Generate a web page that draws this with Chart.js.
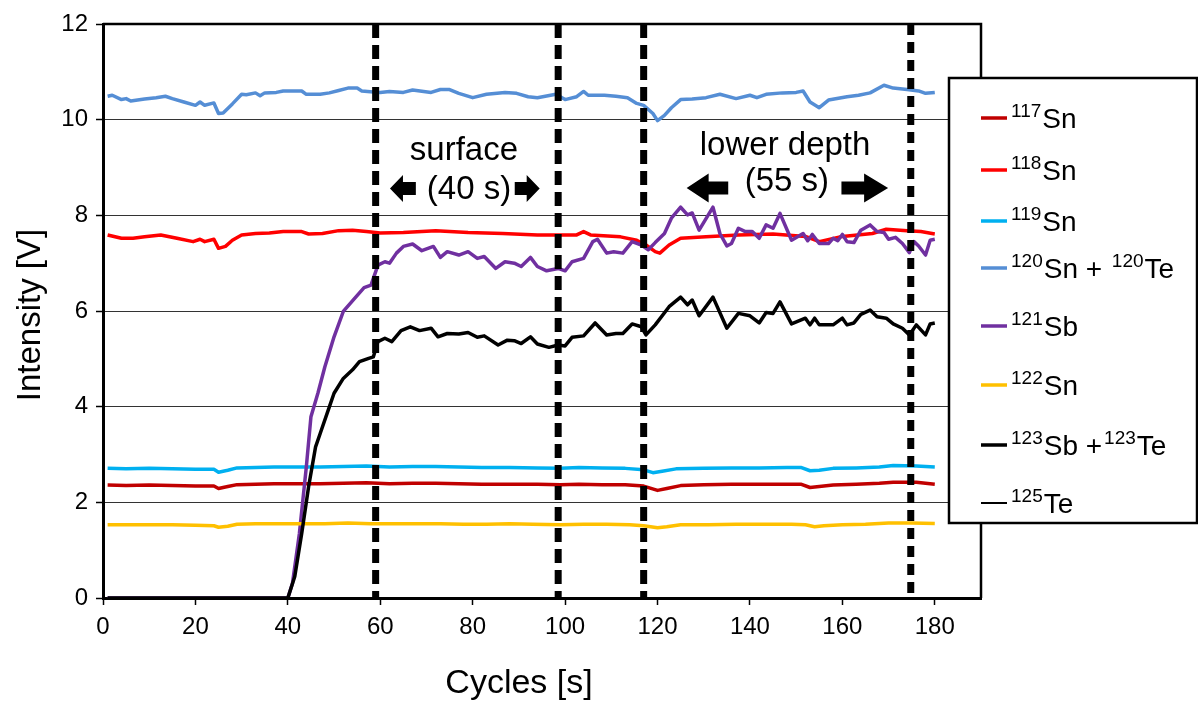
<!DOCTYPE html>
<html>
<head>
<meta charset="utf-8">
<script src="https://cdn.jsdelivr.net/npm/chart.js@4.4.1/dist/chart.umd.min.js"></script>
<style>
  body { margin: 0; background: #fff; }
  #wrap { width: 1198px; height: 702px; }
</style>
</head>
<body>
<div id="wrap"><canvas id="myChart" width="1198" height="702"></canvas></div>
<script>
// values, [cycle, intensity]
const sn117 = [[1,2.36],[5,2.35],[10,2.36],[15,2.35],[20,2.34],[24,2.34],[25,2.29],[27,2.33],[29,2.37],[33,2.38],[37,2.39],[42,2.39],[47,2.39],[52,2.40],[57,2.41],[62,2.39],[67,2.40],[72,2.40],[77,2.39],[82,2.38],[88,2.38],[94,2.38],[99,2.37],[103,2.38],[108,2.37],[113,2.37],[117,2.34],[120,2.25],[122,2.29],[125,2.35],[130,2.37],[136,2.38],[142,2.38],[148,2.38],[151,2.38],[153,2.31],[155,2.33],[158,2.36],[163,2.38],[168,2.40],[171,2.42],[176,2.42],[180,2.38]];
const sn118 = [[1,7.59],[4,7.52],[6.5,7.52],[9,7.55],[12.5,7.59],[16,7.52],[19.5,7.45],[21,7.50],[22,7.45],[24,7.50],[25,7.31],[26.5,7.35],[28,7.48],[30,7.59],[33,7.62],[36,7.63],[39,7.66],[43,7.66],[44.5,7.61],[47.5,7.62],[51,7.68],[54,7.69],[57,7.66],[60,7.63],[65,7.64],[72,7.68],[79,7.64],[86.5,7.62],[94,7.59],[98,7.59],[102.5,7.59],[104,7.66],[105.5,7.59],[112,7.55],[115.5,7.48],[117.5,7.38],[119.5,7.24],[120.5,7.21],[122.5,7.38],[125,7.52],[130.5,7.55],[137.5,7.59],[145,7.61],[152,7.56],[155,7.45],[159.5,7.55],[166.5,7.62],[169.5,7.71],[174,7.68],[177,7.66],[180,7.61]];
const sn119 = [[1,2.71],[5,2.70],[10,2.71],[15,2.70],[20,2.69],[24,2.69],[25,2.63],[27,2.67],[29,2.72],[33,2.73],[37,2.74],[42,2.74],[47,2.74],[52,2.75],[57,2.76],[62,2.74],[67,2.75],[72,2.75],[77,2.74],[82,2.73],[88,2.73],[94,2.72],[99,2.71],[103,2.73],[108,2.72],[113,2.71],[117,2.68],[119,2.62],[121,2.65],[124,2.70],[130,2.71],[136,2.72],[142,2.72],[148,2.73],[151,2.73],[153,2.66],[155,2.67],[158,2.71],[163,2.72],[168,2.74],[171,2.77],[176,2.76],[180,2.74]];
const sn120te120 = [[1,10.49],[2,10.51],[4,10.42],[5,10.44],[6,10.39],[9,10.43],[11.5,10.46],[13.5,10.49],[15,10.44],[17.5,10.37],[20,10.30],[21,10.37],[22,10.30],[24,10.35],[25,10.13],[26,10.14],[28,10.33],[30,10.53],[31,10.52],[33,10.56],[34,10.50],[35,10.56],[37.5,10.57],[39,10.60],[43,10.60],[44,10.53],[47,10.53],[49,10.56],[51,10.61],[53,10.66],[55,10.66],[56,10.60],[58.5,10.58],[60,10.57],[62,10.59],[65,10.57],[67,10.62],[71,10.57],[73,10.63],[75,10.63],[77,10.55],[80,10.46],[83,10.53],[87,10.57],[89.5,10.55],[92,10.48],[94,10.46],[98,10.53],[100,10.42],[102.5,10.48],[104,10.59],[105,10.51],[108.5,10.51],[111,10.49],[113.5,10.46],[115.5,10.34],[117,10.30],[119,10.13],[120,9.98],[121.5,10.09],[123,10.25],[125,10.42],[127.5,10.43],[130.5,10.46],[133.5,10.53],[137,10.44],[140,10.51],[141.5,10.46],[143.5,10.53],[147,10.56],[150,10.57],[151.5,10.60],[153,10.37],[155,10.25],[157,10.41],[161,10.48],[163.5,10.51],[166,10.56],[169,10.72],[171,10.66],[174,10.63],[176.5,10.60],[178,10.55],[180,10.57]];
const sb121 = [[1,0],[40,0],[41,0.31],[42.5,1.35],[44,2.74],[45,3.79],[46.5,4.28],[48,4.83],[50,5.46],[52,5.99],[54.5,6.27],[56.5,6.49],[58,6.54],[59.5,6.96],[61,7.03],[62,7.00],[63.5,7.21],[65,7.35],[67,7.40],[69,7.26],[71.5,7.35],[73,7.12],[74.5,7.24],[77,7.17],[79,7.24],[81,7.10],[82.5,7.14],[85,6.89],[87,7.03],[89,7.00],[90.5,6.93],[92.5,7.12],[94,6.93],[96,6.84],[98.5,6.89],[100,6.84],[101.5,7.03],[104,7.10],[106,7.45],[107,7.50],[109,7.21],[110.5,7.24],[112.5,7.21],[114.5,7.45],[116.5,7.38],[118,7.28],[119.5,7.43],[121.5,7.62],[123,7.94],[125,8.17],[126.5,8.01],[127.5,8.05],[129,7.69],[132,8.17],[133.5,7.62],[135,7.36],[136,7.41],[137.5,7.73],[139,7.66],[140.5,7.66],[142,7.52],[143.5,7.80],[145,7.73],[146.5,8.04],[149,7.48],[151.5,7.62],[152.5,7.47],[153.5,7.60],[155,7.41],[157,7.41],[158,7.52],[159,7.47],[160,7.60],[161,7.45],[162.5,7.43],[164,7.69],[166,7.80],[167.5,7.66],[169,7.64],[170,7.50],[171.5,7.54],[173,7.41],[174.5,7.22],[175.5,7.45],[176.5,7.36],[178,7.17],[179,7.48],[180,7.50]];
const sn122 = [[1,1.53],[5,1.53],[10,1.53],[15,1.53],[20,1.52],[24,1.51],[25,1.48],[27,1.50],[29,1.54],[33,1.55],[38,1.55],[43,1.55],[48,1.55],[53,1.57],[58,1.55],[63,1.55],[68,1.55],[73,1.55],[78,1.54],[83,1.54],[88,1.55],[93,1.54],[99,1.53],[104,1.54],[109,1.54],[114,1.53],[117,1.51],[120,1.47],[122,1.49],[125,1.53],[131,1.53],[137,1.54],[143,1.54],[149,1.54],[152,1.53],[154,1.49],[156,1.51],[160,1.53],[165,1.54],[170,1.57],[175,1.57],[180,1.56]];
const sb123te123 = [[1,0],[40,0],[41.5,0.45],[43,1.35],[44.5,2.33],[46,3.16],[47,3.44],[49,4.00],[50,4.28],[52,4.59],[54,4.77],[55.5,4.94],[57.5,5.01],[58.5,5.04],[59.5,5.36],[61,5.43],[62.5,5.36],[64.5,5.59],[66.5,5.67],[68.5,5.59],[71,5.64],[72.5,5.46],[74.5,5.53],[77,5.52],[79,5.55],[81,5.45],[82.5,5.48],[85.5,5.29],[87.5,5.39],[89,5.38],[90.5,5.32],[92.5,5.46],[94,5.31],[96.5,5.24],[98.5,5.29],[100,5.27],[101.5,5.45],[104,5.48],[106.5,5.75],[109,5.50],[111,5.53],[112.5,5.53],[114.5,5.73],[116.5,5.67],[117.5,5.50],[119.5,5.71],[122.5,6.09],[125,6.29],[126.5,6.13],[127.5,6.23],[129,5.90],[132,6.29],[135,5.64],[137.5,5.95],[140,5.90],[142,5.75],[143.5,5.97],[145,5.95],[146.5,6.19],[149,5.73],[152,5.85],[153,5.71],[154,5.85],[155,5.71],[158,5.71],[160,5.85],[161,5.71],[162.5,5.75],[164,5.93],[166,6.02],[167.5,5.88],[169.5,5.85],[171,5.73],[173,5.64],[174.5,5.50],[176,5.71],[178,5.50],[179,5.73],[180,5.75]];
const te125 = [[1,0],[180,0]];

const xTicks = [0, 20, 40, 60, 80, 100, 120, 140, 160, 180];
const phaseMarks = [59, 98.5, 117, 174.8];

const series = [
  { sup: ['117', 'Sn'], data: sn117, color: '#C00000', width: 3.5 },
  { sup: ['118', 'Sn'], data: sn118, color: '#FF0000', width: 3.5 },
  { sup: ['119', 'Sn'], data: sn119, color: '#00B0F0', width: 3.5 },
  { sup: ['120', 'Sn + ', '120', 'Te'], data: sn120te120, color: '#558ED5', width: 3.5 },
  { sup: ['121', 'Sb'], data: sb121, color: '#7030A0', width: 3.5 },
  { sup: ['122', 'Sn'], data: sn122, color: '#FFC000', width: 3.5 },
  { sup: ['123', 'Sb +', '123', 'Te'], data: sb123te123, color: '#000000', width: 3.5 },
  { sup: ['125', 'Te'], data: te125, color: '#000000', width: 1.5 }
];

const notes = [
  { text: 'surface', x: 78.1, y: 9.16 },
  { text: '(40 s)', x: 79.2, y: 8.34 },
  { text: 'lower depth', x: 147.6, y: 9.26 },
  { text: '(55 s)', x: 148.0, y: 8.51 }
];
const arrows = [
  { tip: 62.1, tail: 67.7, y: 8.56, head: 13, half: 13.5 },
  { tip: 94.5, tail: 89.1, y: 8.56, head: 13, half: 13.5 },
  { tip: 126.3, tail: 135.3, y: 8.57, head: 22, half: 14.5 },
  { tip: 169.9, tail: 159.8, y: 8.57, head: 24, half: 14.5 }
];

const FONT = '"Liberation Sans", Arial, sans-serif';

let decor = {
  id: 'decor',
  afterDatasetsDraw(chart) {
    const c = chart.ctx, a = chart.chartArea;
    const xs = chart.scales.x, ys = chart.scales.y;
    c.save();
    // top + right frame
    c.strokeStyle = '#000';
    c.lineWidth = 2.5;
    c.beginPath();
    c.moveTo(a.left, a.top); c.lineTo(a.right, a.top); c.lineTo(a.right, a.bottom);
    c.stroke();
    // dashed phase lines
    c.lineWidth = 7;
    phaseMarks.forEach((v, i) => {
      const px = xs.getPixelForValue(v);
      c.setLineDash(i === 3 ? [11, 7] : [14, 7]);
      c.beginPath(); c.moveTo(px, a.top); c.lineTo(px, a.bottom); c.stroke();
    });
    c.setLineDash([]);
    // labels
    c.fillStyle = '#000';
    c.font = '33px ' + FONT;
    c.textAlign = 'center';
    c.textBaseline = 'alphabetic';
    notes.forEach(n => c.fillText(n.text, xs.getPixelForValue(n.x), ys.getPixelForValue(n.y)));
    // block arrows
    arrows.forEach(ar => {
      const tip = xs.getPixelForValue(ar.tip), tail = xs.getPixelForValue(ar.tail);
      const y = ys.getPixelForValue(ar.y);
      const d = tip < tail ? 1 : -1;
      const neck = tip + d * ar.head, sh = 6.5;
      c.beginPath();
      c.moveTo(tip, y);
      c.lineTo(neck, y - ar.half); c.lineTo(neck, y - sh);
      c.lineTo(tail, y - sh); c.lineTo(tail, y + sh);
      c.lineTo(neck, y + sh); c.lineTo(neck, y + ar.half);
      c.closePath(); c.fill();
    });
    c.restore();
  },
  afterDraw(chart) {
    const c = chart.ctx;
    c.save();
    c.fillStyle = '#000';
    // axis titles
    c.font = '34px ' + FONT;
    c.textAlign = 'center';
    c.textBaseline = 'alphabetic';
    c.fillText('Cycles [s]', 519, 693);
    c.translate(40, 315);
    c.rotate(-Math.PI / 2);
    c.font = '33px ' + FONT;
    c.fillText('Intensity [V]', 0, 0);
    c.restore();

    // legend box
    c.save();
    c.fillStyle = '#fff';
    c.fillRect(949, 78, 248, 445);
    c.strokeStyle = '#000';
    c.lineWidth = 2.5;
    c.strokeRect(949, 78, 248, 445);
    const rows = [118, 170, 221, 268, 326, 385, 445, 503];
    series.forEach((s, i) => {
      const y = rows[i];
      c.strokeStyle = s.color;
      c.lineWidth = s.width > 2 ? 3.5 : 2;
      c.beginPath(); c.moveTo(981, y); c.lineTo(1007, y); c.stroke();
      let x = 1011;
      const base = y + 10;
      c.fillStyle = '#000';
      c.textAlign = 'left';
      c.textBaseline = 'alphabetic';
      s.sup.forEach((part, k) => {
        if (k % 2 === 0) {
          c.font = '19px ' + FONT;
          c.fillText(part, x, base - 11);
        } else {
          c.font = '28px ' + FONT;
          c.fillText(part, x, base);
        }
        x += c.measureText(part).width + (k % 2 === 0 ? 1 : 2);
      });
    });
    c.restore();
  }
};

let ctx = document.querySelector('#myChart');
let graphData = {
  type: 'line',
  data: {
    datasets: series.map((s, i) => ({
      label: s.sup.join(''),
      data: s.data,
      borderColor: s.color,
      borderWidth: s.width,
      pointRadius: 0,
      tension: 0,
      fill: false,
      borderJoinStyle: 'round',
      order: 10 - i
    }))
  },
  options: {
    responsive: false,
    animation: false,
    devicePixelRatio: 1,
    layout: { padding: { top: 24, right: 217, left: 0, bottom: 0 } },
    plugins: { legend: { display: false }, tooltip: { enabled: false } },
    scales: {
      x: {
        type: 'linear',
        min: 0, max: 190,
        afterBuildTicks: sc => { sc.ticks = xTicks.map(v => ({ value: v })); },
        afterFit: sc => { sc.height = 104; },
        grid: { drawOnChartArea: false, drawTicks: true, tickLength: 7, tickColor: '#000', tickWidth: 1.5 },
        border: { color: '#000', width: 3 },
        ticks: { color: '#000', font: { family: FONT, size: 24 }, padding: 8, maxRotation: 0 }
      },
      y: {
        min: 0, max: 12,
        afterFit: sc => { sc.width = 103; },
        grid: { color: '#333', lineWidth: 1, drawTicks: true, tickLength: 7, tickColor: '#000', tickWidth: 1.5 },
        border: { color: '#000', width: 3 },
        ticks: { stepSize: 2, color: '#000', font: { family: FONT, size: 24 }, padding: 8 }
      }
    }
  },
  plugins: [decor]
};
let myChart = new Chart(ctx, graphData);
</script>
</body>
</html>
